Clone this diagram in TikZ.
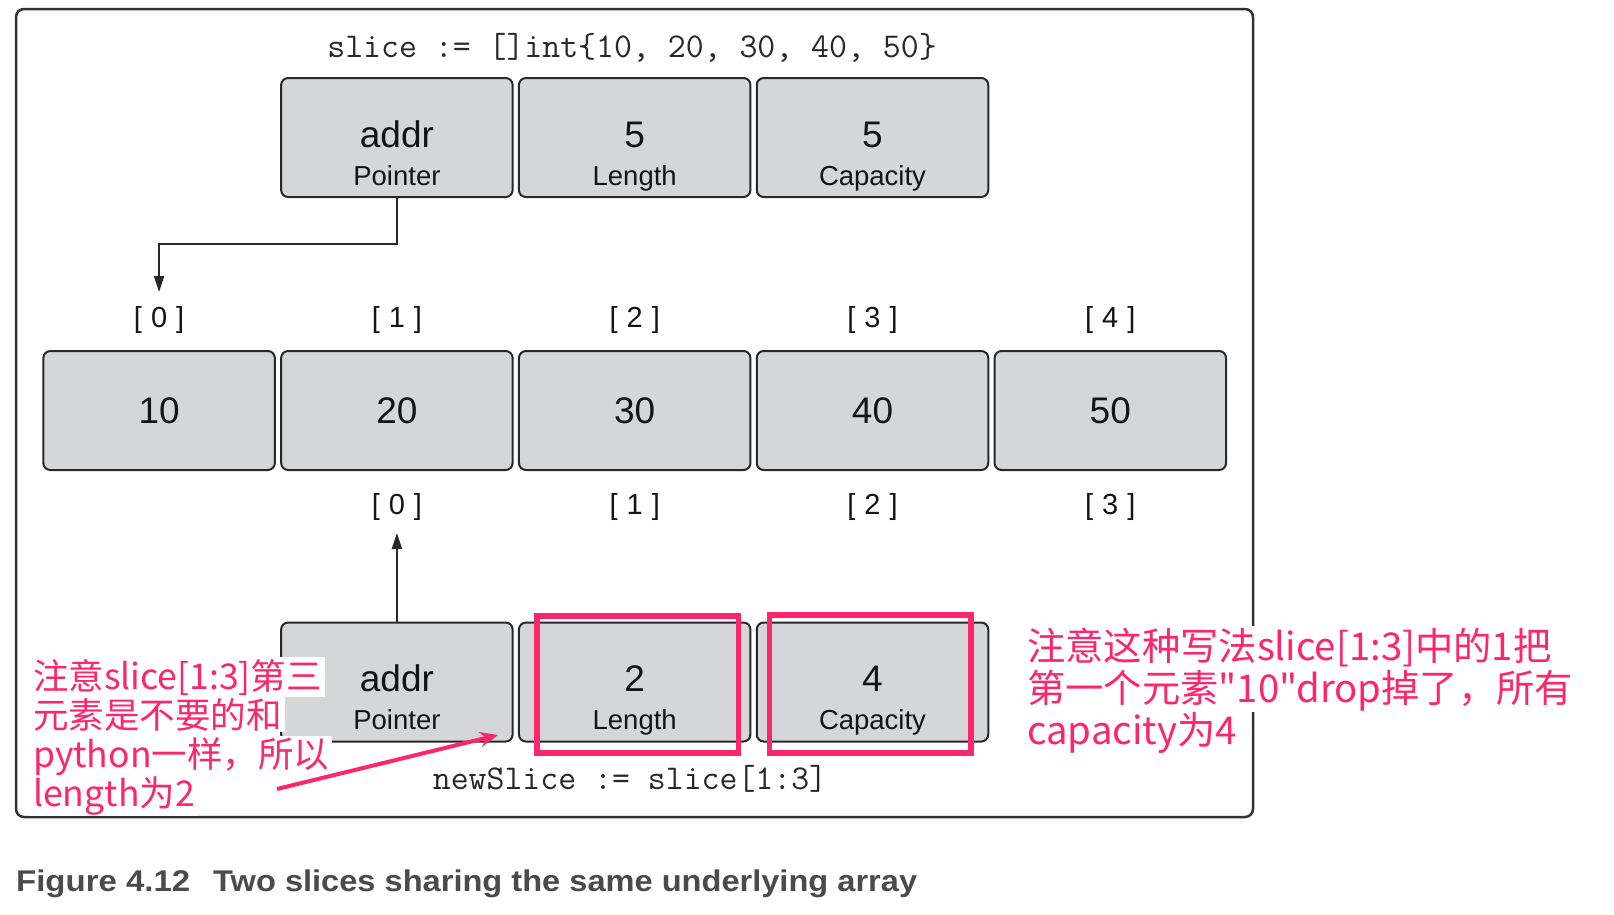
\documentclass[tikz,border=0pt]{standalone}
\usepackage{fontspec}
\setmainfont{Liberation Sans}
\newfontfamily\cjkfont{Noto Sans CJK SC}
\usepackage{graphicx}
\usetikzlibrary{arrows.meta}
\definecolor{boxfill}{RGB}{213,214,216}
\definecolor{boxline}{RGB}{40,40,40}
\definecolor{framecol}{RGB}{50,50,50}
\definecolor{txtcol}{RGB}{20,20,20}
\definecolor{codecol}{RGB}{40,40,40}
\definecolor{pinkc}{RGB}{252,38,108}
\definecolor{capcol}{RGB}{75,75,75}
\begin{document}
\begin{tikzpicture}[x=1pt,y=-1pt,
  frame/.style={draw=framecol,line width=2.5pt,rounded corners=8pt},
  cell/.style={draw=boxline,fill=boxfill,line width=2pt,rounded corners=7pt,minimum width=231.5pt,minimum height=119pt,inner sep=0pt},
  big/.style={font=\fontsize{37}{40}\selectfont,anchor=base,inner sep=0pt,text=txtcol},
  small/.style={font=\fontsize{27.5}{30}\selectfont,anchor=base,inner sep=0pt,text=txtcol},
  idx/.style={font=\fontsize{29}{32}\selectfont,anchor=base,inner sep=0pt,text=txtcol},
  code/.style={font=\ttfamily\fontsize{34.8}{38}\selectfont,anchor=base,inner sep=0pt,text=codecol},
  ptr/.style={draw=boxline,line width=2pt,-{Triangle[length=16pt,width=10pt]}},
  hl/.style={draw=pinkc,line width=5.5pt},
  noteL/.style={font=\cjkfont\fontsize{35.5}{40}\selectfont,text=pinkc,fill=white,anchor=base west,inner xsep=3pt,inner ysep=1.5pt},
  noteR/.style={font=\cjkfont\fontsize{38.3}{44}\selectfont,text=pinkc,fill=white,anchor=base west,inner xsep=2pt,inner ysep=1.5pt},
  parrow/.style={draw=pinkc,line width=4pt,-{Stealth[length=18pt,width=15pt]}},
  captext/.style={anchor=base west,inner sep=0pt,text=capcol,font=\bfseries}
]
\useasboundingbox (0,0) rectangle (1614,914);

% outer frame
\draw[frame] (16,9) rectangle (1253,817);

% declaration
\node[code] (decl) at (632,57) {slice := []int\{10, 20, 30, 40, 50\}};

% slice header
\node[cell] (p0) at (396.9,137.5) {};
\node[cell] (p1) at (634.7,137.5) {};
\node[cell] (p2) at (872.5,137.5) {};
\node[big,yshift=-9.5pt] (p0v) at (p0.center) {addr};
\node[small,yshift=-47.5pt] (p0l) at (p0.center) {Pointer};
\node[big,yshift=-9.5pt] (p1v) at (p1.center) {5};
\node[small,yshift=-47.5pt] (p1l) at (p1.center) {Length};
\node[big,yshift=-9.5pt] (p2v) at (p2.center) {5};
\node[small,yshift=-47.5pt] (p2l) at (p2.center) {Capacity};

% underlying array
\node[cell] (a0) at (159.1,410.5) {};
\node[cell] (a1) at (396.9,410.5) {};
\node[cell] (a2) at (634.7,410.5) {};
\node[cell] (a3) at (872.5,410.5) {};
\node[cell] (a4) at (1110.3,410.5) {};
\node[big,yshift=-13pt] (a0v) at (a0.center) {10};
\node[big,yshift=-13pt] (a1v) at (a1.center) {20};
\node[big,yshift=-13pt] (a2v) at (a2.center) {30};
\node[big,yshift=-13pt] (a3v) at (a3.center) {40};
\node[big,yshift=-13pt] (a4v) at (a4.center) {50};

% indices above
\node[idx] (t0) at (159.1,327) {[\kern9pt 0\kern9pt]};
\node[idx] (t1) at (396.9,327) {[\kern9pt 1\kern9pt]};
\node[idx] (t2) at (634.7,327) {[\kern9pt 2\kern9pt]};
\node[idx] (t3) at (872.5,327) {[\kern9pt 3\kern9pt]};
\node[idx] (t4) at (1110.3,327) {[\kern9pt 4\kern9pt]};

% indices below
\node[idx] (b0) at (396.9,514) {[\kern9pt 0\kern9pt]};
\node[idx] (b1) at (634.7,514) {[\kern9pt 1\kern9pt]};
\node[idx] (b2) at (872.5,514) {[\kern9pt 2\kern9pt]};
\node[idx] (b3) at (1110.3,514) {[\kern9pt 3\kern9pt]};

% newSlice header
\node[cell] (q0) at (396.9,682) {};
\node[cell] (q1) at (634.7,682) {};
\node[cell] (q2) at (872.5,682) {};
\node[big,yshift=-9.5pt] (q0v) at (q0.center) {addr};
\node[small,yshift=-47.5pt] (q0l) at (q0.center) {Pointer};
\node[big,yshift=-9.5pt] (q1v) at (q1.center) {2};
\node[small,yshift=-47.5pt] (q1l) at (q1.center) {Length};
\node[big,yshift=-9.5pt] (q2v) at (q2.center) {4};
\node[small,yshift=-47.5pt] (q2l) at (q2.center) {Capacity};

\node[code] (nsdecl) at (630,789) {newSlice := slice[1:3]};

% pointers
\coordinate (turn) at (159.1,244);
\coordinate (tipA) at (159.1,292);
\draw[ptr] (p0.south) |- (turn) -- (tipA);
\coordinate (tipB) at (396.9,533);
\draw[ptr] (q0.north) -- (tipB);

% highlights
\draw[hl] (537,616) rectangle (738.4,753);
\draw[hl] (769.5,615) rectangle (971,753);

% notes
\node[noteL] (nl1) at (30,689) {注意slice[1:3]第三};
\node[noteL] (nl2) at (30,728) {元素是不要的和};
\node[noteL] (nl3) at (30,767) {python一样，所以};
\node[noteL] (nl4) at (30,806) {length为2};

\node[noteR] (nr1) at (1025,660) {注意这种写法slice[1:3]中的1把};
\node[noteR] (nr2) at (1025,702) {第一个元素"10"drop掉了，所有};
\node[noteR] (nr3) at (1025,744) {capacity为4};

\coordinate (pa) at (277,789);
\coordinate (pb) at (498,735);
\draw[parrow] (pa) -- (pb);

% caption
\node[captext] (capA) at (16,891.7) {\resizebox{174pt}{21.7pt}{\bfseries Figure 4.12}};
\node[captext] (capB) at (213,891.7) {\resizebox{704pt}{21.7pt}{\bfseries Two slices sharing the same underlying array}};
\end{tikzpicture}
\end{document}
